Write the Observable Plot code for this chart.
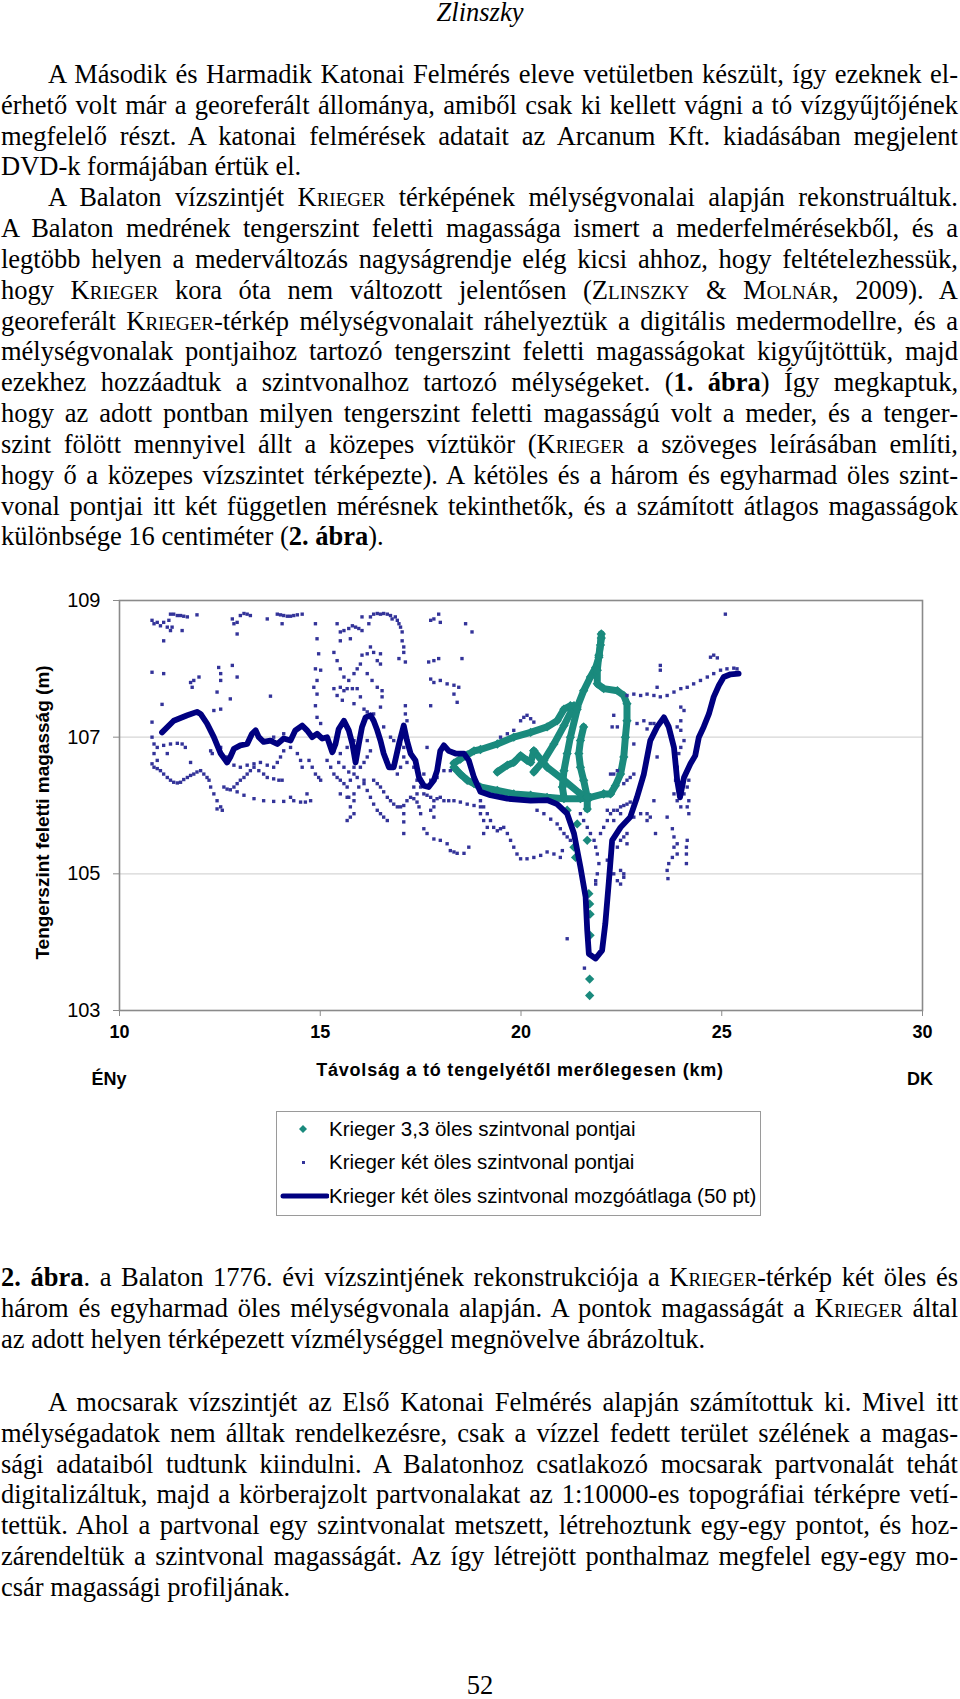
<!DOCTYPE html>
<html><head><meta charset="utf-8">
<script src="https://cdn.jsdelivr.net/npm/d3@7"></script>
<script src="https://cdn.jsdelivr.net/npm/@observablehq/plot@0.6"></script>
<style>
html,body{margin:0;padding:0;background:#fff;}
body{width:960px;height:1699px;position:relative;overflow:hidden;font-family:"Liberation Serif","Times New Roman",serif;color:#000;}
.t{position:absolute;left:1px;width:957px;font-size:26.5px;line-height:30.84px;}
.t div{text-align:justify;text-align-last:justify;height:30.84px;}
.t div.l{text-align-last:left;}
.ind{text-indent:47px;}
.sc{font-variant:small-caps;}
.head{position:absolute;left:0;width:960px;text-align:center;font-size:26.5px;line-height:30.84px;}
#chart{position:absolute;left:0;top:580px;}
.ax{position:absolute;font-family:"Liberation Sans",Arial,sans-serif;font-weight:bold;color:#000;white-space:nowrap;line-height:20px;}
#legend{position:absolute;left:276px;top:1111px;width:485px;height:105px;border:1px solid #9a9a9a;box-sizing:border-box;font-family:"Liberation Sans",Arial,sans-serif;font-size:20.5px;}
#legend .it{position:absolute;left:0;height:24px;line-height:24px;white-space:nowrap;}
#legend svg{position:absolute;left:0;top:0;}
#legend span{position:absolute;left:52px;top:0;}
</style></head>
<body>
<div class="head" style="top:-3px;font-style:italic;">Zlinszky</div>

<div class="t" style="top:59px;">
<div class="ind">A Második és Harmadik Katonai Felmérés eleve vetületben készült, így ezeknek el-</div>
<div>érhető volt már a georeferált állománya, amiből csak ki kellett vágni a tó vízgyűjtőjének</div>
<div>megfelelő részt. A katonai felmérések adatait az Arcanum Kft. kiadásában megjelent</div>
<div class="l">DVD-k formájában értük el.</div>
<div class="ind">A Balaton vízszintjét <span class="sc">Krieger</span> térképének mélységvonalai alapján rekonstruáltuk.</div>
<div>A Balaton medrének tengerszint feletti magassága ismert a mederfelmérésekből, és a</div>
<div>legtöbb helyen a mederváltozás nagyságrendje elég kicsi ahhoz, hogy feltételezhessük,</div>
<div>hogy <span class="sc">Krieger</span> kora óta nem változott jelentősen (<span class="sc">Zlinszky</span> &amp; <span class="sc">Molnár</span>, 2009). A</div>
<div>georeferált <span class="sc">Krieger</span>-térkép mélységvonalait ráhelyeztük a digitális medermodellre, és a</div>
<div>mélységvonalak pontjaihoz tartozó tengerszint feletti magasságokat kigyűjtöttük, majd</div>
<div>ezekhez hozzáadtuk a szintvonalhoz tartozó mélységeket. (<b>1. ábra</b>) Így megkaptuk,</div>
<div>hogy az adott pontban milyen tengerszint feletti magasságú volt a meder, és a tenger-</div>
<div>szint fölött mennyivel állt a közepes víztükör (<span class="sc">Krieger</span> a szöveges leírásában említi,</div>
<div>hogy ő a közepes vízszintet térképezte). A kétöles és a három és egyharmad öles szint-</div>
<div>vonal pontjai itt két független mérésnek tekinthetők, és a számított átlagos magasságok</div>
<div class="l">különbsége 16 centiméter (<b>2. ábra</b>).</div>
</div>

<div id="chart"></div>

<div class="ax" style="left:520px;top:1060px;transform:translateX(-50%);font-size:18px;letter-spacing:0.8px;">Távolság a tó tengelyétől merőlegesen (km)</div>
<div class="ax" style="left:109px;top:1069px;transform:translateX(-50%);font-size:18px;">ÉNy</div>
<div class="ax" style="left:920px;top:1069px;transform:translateX(-50%);font-size:18px;">DK</div>

<div id="legend">
 <div class="it" style="top:5px;width:480px;"><svg width="52" height="24"><path d="M26,8 L30,12 L26,16 L22,12 Z" fill="#1a8a7d"/></svg><span>Krieger 3,3 öles szintvonal pontjai</span></div>
 <div class="it" style="top:38px;width:480px;"><svg width="52" height="24"><rect x="25" y="11" width="3" height="3" fill="#333399"/></svg><span>Krieger két öles szintvonal pontjai</span></div>
 <div class="it" style="top:72px;width:480px;"><svg width="52" height="24"><line x1="6" y1="12" x2="50" y2="12" stroke="#000080" stroke-width="5" stroke-linecap="round"/></svg><span>Krieger két öles szintvonal mozgóátlaga (50 pt)</span></div>
</div>

<div class="t" style="top:1262px;">
<div><b>2. ábra</b>. a Balaton 1776. évi vízszintjének rekonstrukciója a <span class="sc">Krieger</span>-térkép két öles és</div>
<div>három és egyharmad öles mélységvonala alapján. A pontok magasságát a <span class="sc">Krieger</span> által</div>
<div class="l">az adott helyen térképezett vízmélységgel megnövelve ábrázoltuk.</div>
</div>

<div class="t" style="top:1387px;">
<div class="ind">A mocsarak vízszintjét az Első Katonai Felmérés alapján számítottuk ki. Mivel itt</div>
<div>mélységadatok nem álltak rendelkezésre, csak a vízzel fedett terület szélének a magas-</div>
<div>sági adataiból tudtunk kiindulni. A Balatonhoz csatlakozó mocsarak partvonalát tehát</div>
<div>digitalizáltuk, majd a körberajzolt partvonalakat az 1:10000-es topográfiai térképre vetí-</div>
<div>tettük. Ahol a partvonal egy szintvonalat metszett, létrehoztunk egy-egy pontot, és hoz-</div>
<div>zárendeltük a szintvonal magasságát. Az így létrejött ponthalmaz megfelel egy-egy mo-</div>
<div class="l">csár magassági profiljának.</div>
</div>

<div class="head" style="top:1670px;">52</div>

<script>
// ---- axis ticks ----
const xTicks = [10, 15, 20, 25, 30];
const yTicks = [103, 105, 107, 109];
const yGrid = [105, 107];

// ---- moving average of the two-fathom contour points (50 pt) ----
const movingAverage = [[11.06,107.07],[11.35,107.24],[11.69,107.32],[11.93,107.37],[12.02,107.34],[12.18,107.20],[12.35,107.00],[12.52,106.76],[12.68,106.63],[12.76,106.71],[12.85,106.83],[13.01,106.88],[13.18,106.90],[13.30,107.05],[13.39,107.10],[13.47,107.00],[13.59,106.93],[13.76,106.95],[13.93,106.90],[14.09,106.98],[14.26,106.95],[14.38,107.10],[14.55,107.17],[14.67,107.10],[14.80,107.00],[14.92,107.05],[15.05,106.98],[15.17,107.00],[15.30,106.78],[15.38,106.90],[15.46,107.12],[15.59,107.24],[15.71,107.10],[15.80,106.90],[15.88,106.63],[15.96,106.90],[16.04,107.15],[16.13,107.29],[16.25,107.32],[16.33,107.24],[16.42,107.10],[16.50,106.95],[16.58,106.76],[16.71,106.56],[16.83,106.56],[16.96,106.90],[17.08,107.17],[17.16,106.95],[17.25,106.76],[17.37,106.66],[17.46,106.41],[17.58,106.29],[17.70,106.27],[17.83,106.37],[17.91,106.51],[17.99,106.80],[18.08,106.88],[18.20,106.80],[18.37,106.76],[18.58,106.76],[18.70,106.66],[18.83,106.41],[18.99,106.20],[19.24,106.15],[19.66,106.10],[20.24,106.07],[20.65,106.08],[20.90,106.02],[21.15,105.88],[21.32,105.59],[21.48,105.10],[21.61,104.66],[21.65,104.17],[21.69,103.83],[21.86,103.76],[22.02,103.88],[22.10,104.27],[22.19,104.90],[22.27,105.49],[22.48,105.68],[22.72,105.83],[22.89,106.12],[23.06,106.46],[23.22,106.95],[23.39,107.15],[23.56,107.29],[23.68,107.15],[23.81,106.85],[23.89,106.37],[23.96,106.12],[24.06,106.41],[24.22,106.61],[24.34,106.73],[24.43,107.00],[24.55,107.15],[24.68,107.34],[24.80,107.59],[24.93,107.76],[25.05,107.88],[25.22,107.92],[25.42,107.93]];

// ---- 3,3-fathom contour points (teal), traced chains ----
const tealUpperArm = [[18.33,106.62],[18.49,106.68],[18.66,106.74],[18.83,106.80],[18.99,106.82],[19.41,106.90],[19.82,107.00],[20.24,107.07],[20.65,107.15],[20.90,107.24],[21.07,107.41],[21.23,107.46],[21.40,107.44],[21.56,107.68],[21.73,107.88],[21.86,108.02],[21.94,108.17],[21.98,108.35],[22.00,108.51]];
const tealEastLoop = [[22.00,108.45],[21.94,108.20],[21.90,107.98],[21.90,107.78],[22.06,107.71],[22.40,107.68],[22.56,107.61],[22.64,107.49],[22.64,107.24],[22.60,107.00],[22.56,106.71],[22.48,106.46],[22.35,106.29],[22.23,106.17],[22.06,106.17]];
const tealLowerCurve = [[18.33,106.56],[18.49,106.46],[18.66,106.37],[18.83,106.32],[18.99,106.27],[19.41,106.22],[19.82,106.17],[20.24,106.15],[20.65,106.12],[21.07,106.10],[21.48,106.10],[21.73,106.12],[22.06,106.17]];
const tealCluster = [[19.41,106.49],[19.66,106.59],[19.82,106.63],[19.99,106.73],[20.15,106.66],[20.24,106.63],[20.32,106.80]];
const tealCrossA = [[20.32,106.80],[20.65,106.56],[21.07,106.37],[21.48,106.17],[21.65,106.12]];
const tealCrossB = [[21.32,107.46],[21.07,107.17],[20.82,106.90],[20.57,106.66],[20.32,106.49]];
const tealCrossC = [[21.40,107.41],[21.23,107.00],[21.15,106.76],[21.07,106.51],[21.03,106.27],[21.07,106.12]];
const tealStem = [[21.56,107.15],[21.48,106.95],[21.44,106.76],[21.48,106.56],[21.56,106.37],[21.65,106.12],[21.65,105.95]];
const tealScattered = [[21.15,105.93],[21.40,105.73],[21.65,105.49],[21.32,105.39],[21.36,105.24],[21.69,104.71],[21.71,104.56],[21.72,104.41],[21.72,104.10],[21.71,103.46],[21.71,103.22]];

// ---- two-fathom contour points (small navy squares) ----
const dotsWestTop = [[10.81,108.71],[10.86,108.66],[10.94,108.68],[11.02,108.63],[11.10,108.68],[11.19,108.61],[11.23,108.71],[11.27,108.80],[11.35,108.80],[11.44,108.78],[11.52,108.78],[11.60,108.77],[11.69,108.76],[11.93,108.79],[11.10,108.41],[11.56,108.56],[11.27,108.56],[11.31,108.61],[12.81,108.73],[12.85,108.66],[12.93,108.68],[13.01,108.78],[13.10,108.81],[13.18,108.80],[13.26,108.78],[12.93,108.51],[13.68,108.73],[13.93,108.80],[14.01,108.79],[14.09,108.78],[14.18,108.77],[14.26,108.77],[14.34,108.78],[14.43,108.79],[14.55,108.80],[14.05,108.66],[14.88,108.66],[14.92,108.44],[14.96,108.22],[15.01,107.98],[15.42,108.66],[15.50,108.54],[15.59,108.56],[15.71,108.59],[15.80,108.63],[15.88,108.61],[15.96,108.59],[16.04,108.76],[16.04,108.56],[15.50,108.41],[15.75,108.44],[16.21,108.66],[16.25,108.76],[16.33,108.80],[16.42,108.81],[16.50,108.80],[16.58,108.81],[16.67,108.80],[16.75,108.78],[16.79,108.73],[16.87,108.76],[16.92,108.71],[16.96,108.66],[17.00,108.61],[17.04,108.54],[17.04,108.41],[17.08,108.32],[17.08,108.24],[16.96,108.15],[17.12,108.10],[17.75,108.71],[17.83,108.73],[17.95,108.80],[17.99,108.68],[18.62,108.66],[18.78,108.54]];
const dotsWestMid = [[10.81,107.95],[11.10,107.93],[11.77,107.80],[11.85,107.83],[11.98,107.88],[11.81,107.73],[12.47,108.02],[12.52,107.93],[12.52,107.83],[12.81,108.05],[12.93,107.88],[12.43,107.66],[12.76,107.56],[12.35,107.39],[12.52,107.41],[13.76,107.60],[11.06,107.48],[10.81,107.22],[14.88,108.00],[14.92,107.83],[14.84,107.73],[14.92,107.63],[14.88,107.46],[14.92,107.29],[15.01,107.20],[15.34,108.24],[15.42,108.12],[15.50,108.00],[15.59,107.88],[15.50,107.73],[15.42,107.61],[15.55,107.54],[15.34,107.71],[15.59,107.68],[15.67,107.71],[15.80,107.71],[15.92,107.71],[15.71,107.83],[15.84,107.93],[15.92,108.00],[16.00,108.07],[16.04,108.20],[16.17,108.22],[16.25,108.32],[16.33,108.24],[16.42,108.12],[16.50,108.22],[16.50,108.07],[16.17,107.93],[16.29,107.83],[16.42,107.73],[16.54,107.68],[16.54,107.59],[16.00,107.59],[15.84,107.49],[16.09,107.41],[16.17,107.37],[16.33,107.34],[16.50,107.44],[17.70,108.10],[17.83,108.12],[17.95,108.15],[18.53,108.15],[17.75,107.85],[17.83,107.80],[17.99,107.83],[18.16,107.78],[18.33,107.76],[18.45,107.73],[18.33,107.63],[18.41,107.51],[17.75,107.46],[17.12,107.46],[17.12,107.34],[17.16,107.24]];
const dotsWestLow = [[10.81,107.00],[10.86,106.90],[10.94,106.85],[10.86,106.76],[10.94,106.66],[10.81,106.61],[10.86,106.56],[10.94,106.54],[11.02,106.51],[11.10,106.46],[11.19,106.41],[11.27,106.37],[11.35,106.34],[11.44,106.33],[11.52,106.34],[11.60,106.38],[11.69,106.41],[11.77,106.44],[11.85,106.46],[11.93,106.49],[12.02,106.51],[12.10,106.46],[12.18,106.41],[12.23,106.37],[12.27,106.27],[12.35,106.17],[12.43,106.07],[12.52,105.98],[12.56,105.93],[12.43,105.95],[11.10,106.88],[11.27,106.90],[11.44,106.91],[11.56,106.90],[11.64,106.85],[11.77,106.63],[11.19,106.76],[12.60,106.27],[12.68,106.24],[12.76,106.23],[12.85,106.27],[12.93,106.32],[13.01,106.37],[13.10,106.41],[13.18,106.46],[13.26,106.51],[13.35,106.56],[13.47,106.51],[13.59,106.46],[13.68,106.41],[13.84,106.39],[13.97,106.37],[14.05,106.37],[12.93,106.20],[13.10,106.15],[13.35,106.10],[13.59,106.07],[13.84,106.06],[14.09,106.06],[14.26,106.12],[14.34,106.07],[14.51,106.05],[14.63,106.05],[14.76,106.07],[14.67,106.17],[12.27,106.80],[12.31,106.76],[12.52,106.85],[12.68,106.71],[12.85,106.59],[13.01,106.56],[13.18,106.59],[13.35,106.61],[13.51,106.63],[13.68,106.59],[13.84,106.56],[13.93,106.63],[14.01,106.71],[14.09,106.80],[14.26,106.85],[14.43,106.76],[14.51,106.66],[14.55,106.56],[13.43,107.05],[13.59,106.95],[13.84,107.00],[14.09,107.05],[14.72,106.66],[14.80,106.56],[14.88,106.46],[14.96,106.41],[15.01,106.37]];
const dotsCentral = [[15.17,106.66],[15.26,106.56],[15.34,106.46],[15.42,106.41],[15.50,106.37],[15.59,106.32],[15.67,106.27],[15.75,106.37],[15.84,106.46],[15.92,106.41],[16.00,106.56],[16.09,106.63],[16.17,106.71],[16.25,106.80],[16.17,106.95],[16.00,107.00],[15.84,106.95],[15.67,106.85],[15.50,106.76],[15.34,106.80],[15.26,106.85],[15.46,106.63],[15.59,106.56],[15.71,106.49],[15.84,106.56],[16.09,106.37],[15.50,106.17],[15.67,106.12],[15.84,106.17],[15.96,106.27],[16.09,106.32],[16.17,106.22],[16.25,106.12],[16.33,106.02],[16.42,105.93],[16.50,105.88],[16.58,105.83],[16.67,105.78],[15.67,105.78],[15.75,105.83],[15.84,105.88],[15.71,106.12],[15.75,105.98],[15.84,106.07],[16.33,106.37],[16.42,106.32],[16.50,106.27],[16.58,106.20],[16.67,106.12],[16.75,106.07],[16.83,106.02],[16.92,105.98],[17.00,105.98],[17.08,106.00],[17.16,106.07],[17.25,106.12],[17.33,106.10],[17.41,106.05],[17.46,105.98],[17.50,105.88],[17.58,105.66],[17.66,105.59],[17.83,105.51],[17.99,105.49],[18.16,105.44],[18.24,105.34],[18.33,105.32],[18.41,105.30],[18.58,105.30],[18.70,105.39],[17.08,105.88],[17.08,105.76],[17.08,105.59],[17.33,106.27],[17.41,106.17],[17.50,106.27],[17.58,106.17],[17.66,106.15],[17.75,106.12],[17.83,106.07],[17.91,106.10],[17.99,106.12],[18.08,106.07],[18.20,106.07],[18.33,106.07],[18.49,106.05],[18.66,106.02],[18.83,106.00],[18.99,105.98],[17.75,105.93],[17.83,105.83],[17.83,105.98],[16.58,106.76],[16.67,106.66],[16.75,106.56],[16.92,106.46],[17.00,106.56],[17.16,106.63],[17.33,106.56],[17.41,106.37],[17.58,106.46],[17.75,106.37],[17.91,106.41],[18.08,106.51],[18.24,106.51],[17.66,106.85],[16.58,107.15],[16.75,107.00],[16.83,106.95],[17.00,106.90],[17.08,106.85],[17.08,106.71]];
const dotsEast = [[19.99,107.24],[20.07,107.29],[20.15,107.32],[20.24,107.27],[20.32,107.22],[19.82,107.10],[19.66,107.05],[19.49,107.00],[18.99,106.07],[19.07,105.98],[19.16,105.88],[19.24,105.78],[19.32,105.68],[19.41,105.63],[19.49,105.66],[19.57,105.68],[19.66,105.59],[19.74,105.49],[19.82,105.39],[19.90,105.29],[19.99,105.22],[20.15,105.22],[20.32,105.24],[20.49,105.27],[20.65,105.32],[20.82,105.29],[20.98,105.24],[21.03,105.34],[18.99,105.88],[19.07,105.78],[19.16,105.68],[19.07,105.59],[20.40,105.93],[20.57,105.88],[20.74,105.80],[20.90,105.73],[20.98,105.66],[21.07,105.59],[21.15,105.54],[21.23,105.49],[21.48,105.88],[21.56,105.78],[21.65,105.68],[21.73,105.59],[21.82,105.49],[21.86,105.39],[21.90,105.29],[21.94,105.15],[21.86,104.90],[21.90,105.00],[21.98,105.59],[22.06,105.68],[22.15,105.78],[22.23,105.88],[22.31,105.93],[22.40,105.93],[22.48,105.98],[22.56,106.00],[22.64,106.02],[22.72,106.05],[22.15,105.20],[22.23,105.10],[22.31,105.00],[22.40,104.90],[22.48,104.85],[22.56,104.95],[22.48,105.05],[22.40,105.39],[22.48,105.49],[22.56,105.54],[22.64,105.59],[22.64,105.44],[22.56,105.00],[21.86,104.85],[21.15,104.05],[21.58,103.62],[22.64,107.61],[22.81,107.63],[22.98,107.61],[23.14,107.63],[23.31,107.61],[23.47,107.59],[23.64,107.61],[23.81,107.66],[23.98,107.71],[24.14,107.73],[24.30,107.78],[24.47,107.83],[24.64,107.88],[24.80,107.93],[24.97,107.98],[25.13,108.00],[25.30,108.01],[25.38,108.00],[24.72,108.17],[24.80,108.20],[24.89,108.16],[25.09,108.80],[23.47,108.05],[23.47,107.98],[23.39,107.73],[22.31,107.32],[22.40,107.15],[22.27,107.15],[22.89,107.20],[23.06,107.24],[23.14,107.12],[23.22,107.20],[23.31,107.20],[23.39,106.71],[22.81,106.90],[22.23,106.46],[22.31,106.46],[22.40,106.51],[22.56,106.32],[22.64,106.37],[22.72,106.41],[22.81,106.46],[22.15,105.93],[22.31,105.78],[22.48,105.88],[23.98,107.44],[24.06,107.39],[23.98,107.24],[23.89,107.15],[23.98,107.10],[24.06,106.95],[23.98,106.85],[23.93,106.76],[23.89,106.56],[23.85,106.37],[23.81,106.17],[23.89,106.07],[23.98,105.98],[24.06,106.17],[24.14,106.27],[24.18,106.37],[24.18,106.07],[24.14,105.98],[24.18,105.88],[23.31,106.07],[22.81,105.83],[22.98,105.88],[23.14,105.88],[23.22,105.83],[23.64,105.83],[23.77,105.66],[23.81,105.54],[23.81,105.39],[23.89,105.44],[23.89,105.29],[23.77,105.24],[23.68,105.15],[23.64,105.05],[23.66,104.93],[24.14,105.49],[24.12,105.39],[24.12,105.29],[24.12,105.15],[23.35,105.59],[23.14,105.78]];

// ---- build tables for the library ----
const tealChains = [
  ["upper", tealUpperArm], ["east", tealEastLoop], ["lower", tealLowerCurve], ["cluster", tealCluster],
  ["crossA", tealCrossA], ["crossB", tealCrossB], ["crossC", tealCrossC], ["stem", tealStem]
].flatMap(([id, arr]) => arr.map(([x, y]) => ({chain: id, x, y})));
const tealAll = tealChains.concat(tealScattered.map(([x, y]) => ({chain: "scatter", x, y})));
const navyDots = [...dotsWestTop, ...dotsWestMid, ...dotsWestLow, ...dotsCentral, ...dotsEast].map(([x, y]) => ({x, y}));
const maLine = movingAverage.map(([x, y]) => ({x, y}));

const TEAL = "#1a8a7d", NAVY = "#000080", DOT = "#333399";

const chart = Plot.plot({
  width: 960, height: 510,
  marginTop: 20, marginBottom: 80, marginLeft: 119, marginRight: 38,
  style: {background: "transparent", fontFamily: "'Liberation Sans', Arial, sans-serif", color: "#000", overflow: "visible"},
  x: {domain: [10, 30], label: null},
  y: {domain: [103, 109], label: null},
  marks: [
    Plot.ruleY(yGrid, {stroke: "#d6d6d6", strokeWidth: 1.2}),
    Plot.frame({stroke: "#8a8a8a", strokeWidth: 1.6}),
    Plot.axisY({ticks: yTicks, tickSize: 6, tickPadding: 13, stroke: "#8a8a8a", fill: "#000", fontSize: 20, label: null, tickFormat: d => String(d)}),
    Plot.axisX({ticks: xTicks, tickSize: 6, tickPadding: 9, stroke: "#8a8a8a", fill: "#000", fontSize: 18, fontWeight: "bold", label: null, tickFormat: d => String(d)}),
    Plot.text(["Tengerszint feletti magasság (m)"], {frameAnchor: "left", textAnchor: "middle", lineAnchor: "middle", dx: -77, dy: 7, rotate: -90, fontSize: 19, fontWeight: "bold", fill: "#000"}),
    Plot.line(tealChains, {x: "x", y: "y", z: "chain", stroke: TEAL, strokeWidth: 7, strokeLinejoin: "round", strokeLinecap: "round"}),
    Plot.dot(tealAll, {x: "x", y: "y", symbol: "diamond2", r: 4.2, fill: TEAL, stroke: "none"}),
    Plot.dot(navyDots, {x: "x", y: "y", symbol: "square", r: 1.9, fill: DOT, stroke: "none"}),
    Plot.line(maLine, {x: "x", y: "y", stroke: NAVY, strokeWidth: 5.8, strokeLinejoin: "round", strokeLinecap: "round"})
  ]
});
document.getElementById("chart").appendChild(chart);
</script>
</body></html>
